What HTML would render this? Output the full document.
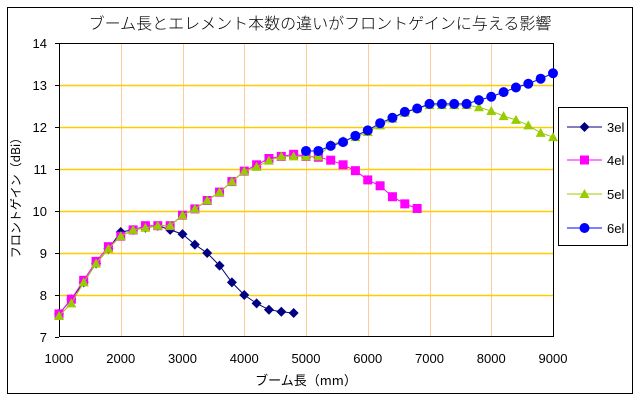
<!DOCTYPE html>
<html><head><meta charset="utf-8"><style>body{margin:0;background:#fff}svg{display:block}</style></head><body>
<svg width="640" height="400" xmlns="http://www.w3.org/2000/svg" font-family="Liberation Sans, 'Noto Sans CJK JP', sans-serif">
<rect x="0" y="0" width="640" height="400" fill="#fff"/>
<rect x="7.5" y="7.5" width="625" height="386" fill="none" stroke="#000" stroke-width="1"/>
<text x="320" y="29" font-size="16" text-anchor="middle" font-family="'Noto Sans CJK JP', sans-serif" font-weight="300">ブーム長とエレメント本数の違いがフロントゲインに与える影響</text>
<g id="grid"></g>
<rect x="59.5" y="43.5" width="494" height="293" fill="none" stroke="#000"/>
<g id="series"></g>
<rect x="558.5" y="107.5" width="69" height="138" fill="#fff" stroke="#000"/>
<g font-size="13" id="legend"></g>
<g font-size="13" id="labels"></g>
<text x="306" y="385" font-size="13" text-anchor="middle" font-family="'Noto Sans CJK JP', sans-serif">ブーム長（mm）</text>
<text transform="translate(20,195) rotate(-90)" font-size="12" text-anchor="middle" font-family="'Noto Sans CJK JP', sans-serif">フロントゲイン（dBi）</text>
<script>
var NS="http://www.w3.org/2000/svg";
function el(t,a,p){var e=document.createElementNS(NS,t);for(var k in a)e.setAttribute(k,a[k]);(p||document.querySelector('svg')).appendChild(e);return e;}
function X(v){return 59+(v-1000)*494/8000;}
function Y(v){return 43+(14-v)*42;}
var g=document.getElementById('grid'),L=document.getElementById('labels');
for(var i=2000;i<=8000;i+=1000){el('line',{x1:Math.round(X(i))+.5,x2:Math.round(X(i))+.5,y1:43,y2:337,stroke:'#FFCC99','stroke-width':1},g);}
for(var j=8;j<=13;j++){el('line',{x1:59,x2:553,y1:Y(j)+.5,y2:Y(j)+.5,stroke:'#FFCC00','stroke-width':1.6},g);}
for(var j=7;j<=14;j++){el('line',{x1:55,x2:59,y1:Y(j)+.5,y2:Y(j)+.5,stroke:'#000'},L);var t=el('text',{x:47,y:Y(j)+5,'text-anchor':'end'},L);t.textContent=j;}
for(var i=1000;i<=9000;i+=1000){var t=el('text',{x:X(i),y:363,'text-anchor':'middle'},L);t.textContent=i;}
var d3=[7.55,7.9,8.3,8.75,9.1,9.5,9.55,9.6,9.65,9.55,9.45,9.2,9.0,8.7,8.3,8.0,7.8,7.65,7.6,7.57];
var d4=[7.55,7.9,8.35,8.8,9.15,9.4,9.55,9.65,9.65,9.65,9.9,10.05,10.25,10.45,10.7,10.95,11.1,11.25,11.3,11.35,11.3,11.28,11.21,11.1,10.96,10.74,10.6,10.34,10.17,10.06];
var d5=[7.5,7.8,8.3,8.75,9.1,9.4,9.55,9.6,9.65,9.65,9.9,10.05,10.25,10.45,10.7,10.95,11.05,11.2,11.3,11.3,11.3,11.3,11.58,11.67,11.76,11.88,12.04,12.2,12.34,12.44,12.52,12.52,12.52,12.52,12.47,12.38,12.26,12.17,12.04,11.86,11.76];
var d6=[11.43,11.43,11.55,11.64,11.79,11.92,12.09,12.22,12.36,12.44,12.55,12.55,12.55,12.55,12.64,12.72,12.83,12.94,13.03,13.15,13.28];
var S=document.getElementById('series');
function marker(type,x,y,c,p){
 if(type==0)el('polygon',{points:(x)+','+(y-5)+' '+(x+5)+','+y+' '+x+','+(y+5)+' '+(x-5)+','+y,fill:c},p);
 else if(type==1)el('rect',{x:x-4.5,y:y-4.5,width:9,height:9,fill:c},p);
 else if(type==2)el('polygon',{points:x+','+(y-5)+' '+(x+5)+','+(y+4)+' '+(x-5)+','+(y+4),fill:c},p);
 else el('circle',{cx:x,cy:y,r:5,fill:c},p);
}
function series(d,start,c,type){var pts=d.map(function(v,i){return [X(start+200*i),Y(v)];});
 el('polyline',{points:pts.map(function(p){return p.join(',')}).join(' '),fill:'none',stroke:c,'stroke-width':1},S);
 pts.forEach(function(p){marker(type,p[0],p[1],c,S);});}
series(d3,1000,'#000080',0);series(d4,1000,'#FF00FF',1);series(d5,1000,'#99CC00',2);series(d6,5000,'#0000FF',3);
var LG=document.getElementById('legend');
[['3el','#000080',0,127],['4el','#FF00FF',1,160],['5el','#99CC00',2,194],['6el','#0000FF',3,228]].forEach(function(a){
 el('line',{x1:567,x2:602,y1:a[3],y2:a[3],stroke:a[1]},LG);marker(a[2],584.5,a[3],a[1],LG);
 var t=el('text',{x:607,y:a[3]+5},LG);t.textContent=a[0];});
</script>
</svg>
</body></html>
